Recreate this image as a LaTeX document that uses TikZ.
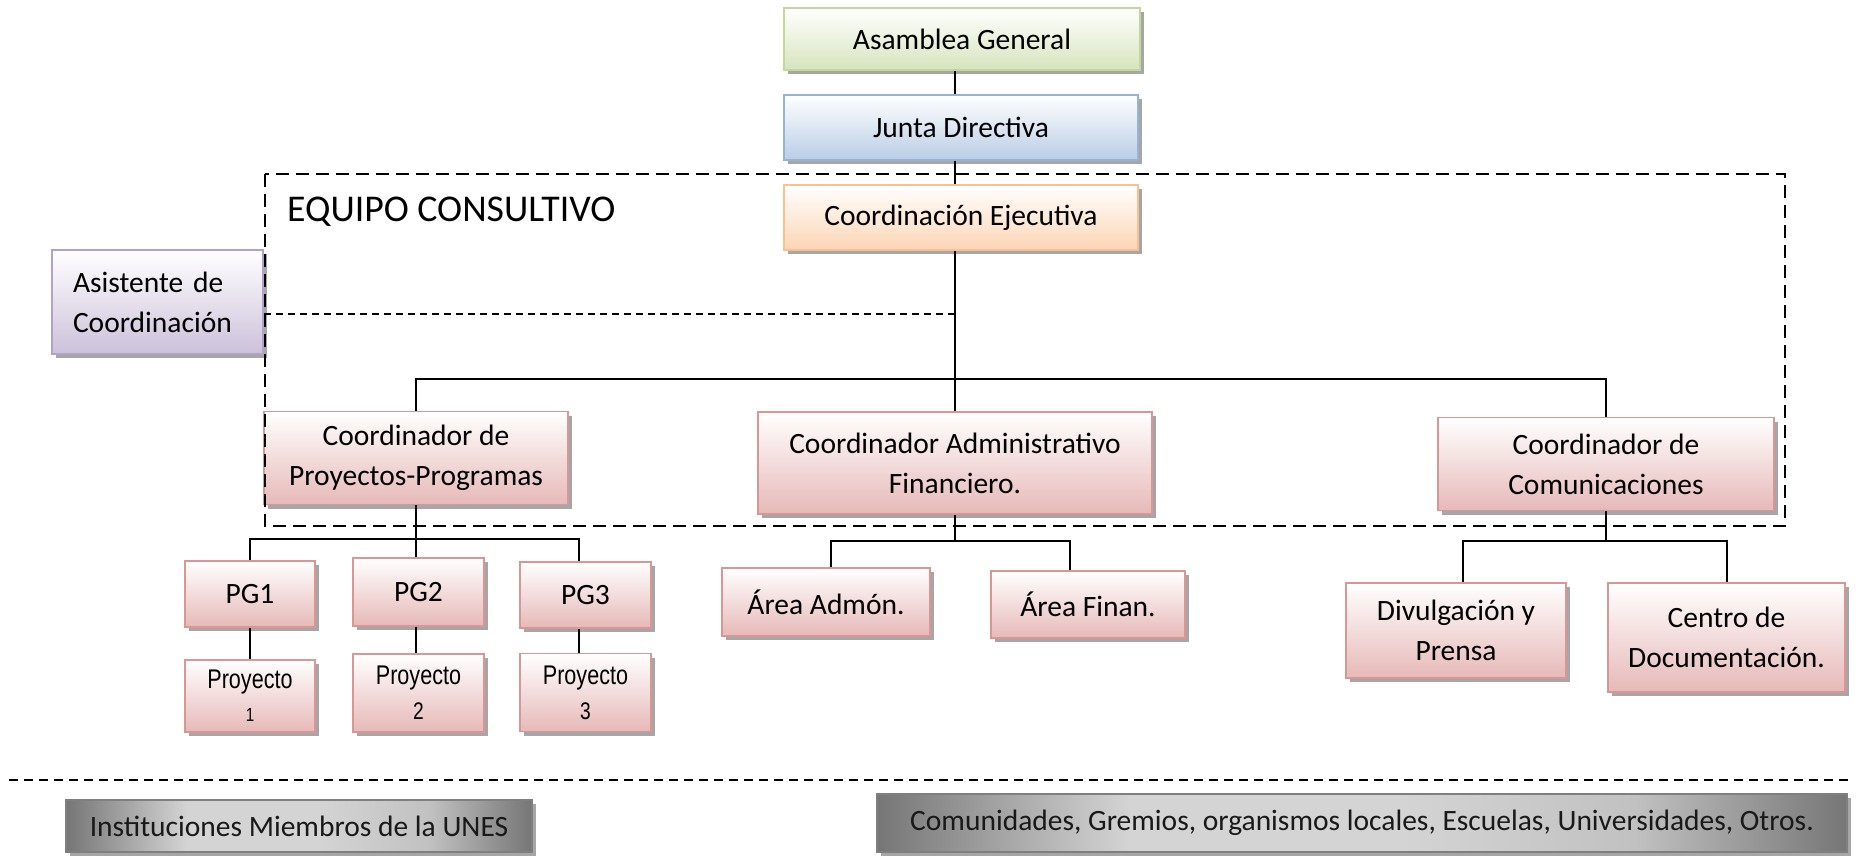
\documentclass[tikz,border=0pt]{standalone}
\usepackage{fontspec}
\setmainfont{Carlito}
\newfontfamily\narrowfont[FakeStretch=0.8]{Liberation Sans}
\usetikzlibrary{shadows,calc}
\definecolor{pinkb}{HTML}{D99694}
\definecolor{pinkf}{HTML}{E6B9B8}
\definecolor{greenb}{HTML}{C3D69B}
\definecolor{greenf}{HTML}{D7E4BD}
\definecolor{blueb}{HTML}{95B3D7}
\definecolor{bluef}{HTML}{B9CDE5}
\definecolor{orangeb}{HTML}{FAC090}
\definecolor{orangef}{HTML}{FCD5B5}
\definecolor{purpleb}{HTML}{B3A2C7}
\definecolor{purplef}{HTML}{CCC1DA}
\definecolor{greyb}{HTML}{7F7F7F}
\definecolor{greyd}{HTML}{767676}
\definecolor{greyl}{HTML}{D4D4D4}
\pgfdeclarehorizontalshading{greyshade}{100bp}{color(0bp)=(greyd); color(25bp)=(greyd); color(38bp)=(greyl); color(52bp)=(greyl); color(64bp)=(greyl!80!greyd); color(75bp)=(greyd); color(100bp)=(greyd)}
\tikzset{
  base/.style={draw, line width=1.6pt, inner sep=0pt, align=center,
    font=\fontsize{29.5}{40}\selectfont,
    drop shadow={shadow xshift=4pt, shadow yshift=-4pt, fill=black, opacity=0.35}},
  pinkbox/.style={base, draw=pinkb, top color=white, bottom color=pinkf},
  greenbox/.style={base, draw=greenb, top color=white, bottom color=greenf},
  bluebox/.style={base, draw=blueb, top color=white, bottom color=bluef},
  orangebox/.style={base, draw=orangeb, top color=white, bottom color=orangef},
  purplebox/.style={base, draw=purpleb, top color=white, bottom color=purplef},
  greybox/.style={base, draw=greyb, shading=greyshade, text=black!90},
  projbox/.style={pinkbox, font=\narrowfont\fontsize{27}{35}\selectfont},
  conn/.style={line width=2pt, black},
  bigdash/.style={line width=2pt, dash pattern=on 13pt off 7pt},
  smalldash/.style={line width=1.6pt, dash pattern=on 7pt off 5pt},
  botdash/.style={line width=1.6pt, dash pattern=on 9pt off 6pt},
}
\begin{document}
\begin{tikzpicture}[x=1pt, y=-1pt]
\useasboundingbox (0,0) rectangle (1858,856);

% top chain
\node[greenbox, minimum width=356pt, minimum height=62pt] (asam) at (962,39) {Asamblea General};
\node[bluebox, minimum width=354pt, minimum height=65pt] (junta) at (961,127.5) {Junta Directiva};
\node[orangebox, minimum width=354pt, minimum height=65pt] (ejec) at (961,217.5) {Coordinación Ejecutiva};

% assistant
\node[purplebox, minimum width=211pt, minimum height=104pt, text width=169pt, inner xsep=21pt, align=left] (asis) at (157.5,302) {Asistente de\\Coordinación};

% coordinators
\node[pinkbox, minimum width=304pt, minimum height=93pt] (cpp) at (416,458) {Coordinador de\\Proyectos-Programas};
\node[pinkbox, minimum width=394pt, minimum height=102pt] (cadm) at (955,463) {Coordinador Administrativo\\Financiero.};
\node[pinkbox, minimum width=336pt, minimum height=93pt] (ccom) at (1606,464) {Coordinador de\\Comunicaciones};

% PG
\node[pinkbox, minimum width=130pt, minimum height=66pt] (pg1) at (250,594) {PG1};
\node[pinkbox, minimum width=131pt, minimum height=68pt] (pg2) at (418.5,592) {PG2};
\node[pinkbox, minimum width=131pt, minimum height=66pt] (pg3) at (585.5,595) {PG3};
\node[projbox, minimum width=130pt, minimum height=72pt] (pr1) at (250,696) {Proyecto\\[-2pt]{\fontsize{19}{22}\selectfont 1}};
\node[projbox, minimum width=131pt, minimum height=78pt] (pr2) at (418.5,693) {Proyecto\\{\fontsize{24}{30}\selectfont 2}};
\node[projbox, minimum width=131pt, minimum height=78pt] (pr3) at (585.5,692.5) {Proyecto\\{\fontsize{24}{30}\selectfont 3}};

% admin
\node[pinkbox, minimum width=208pt, minimum height=68pt] (adm) at (826,602) {Área Admón.};
\node[pinkbox, minimum width=194pt, minimum height=67pt] (fin) at (1088,604.5) {Área Finan.};

% communications
\node[pinkbox, minimum width=220pt, minimum height=95pt] (div) at (1456,630.5) {Divulgación y\\Prensa};
\node[pinkbox, minimum width=237pt, minimum height=109pt] (cen) at (1726.5,637.5) {Centro de\\Documentación.};

% bottom boxes
\node[greybox, minimum width=466pt, minimum height=52pt] (inst) at (299,826) {Instituciones Miembros de la UNES};
\node[greybox, minimum width=970pt, minimum height=58pt] (comu) at (1362,823) {Comunidades, Gremios, organismos locales, Escuelas, Universidades, Otros.};

% coordinates
\coordinate (bus) at (955,379);
\coordinate (asdash) at (955,314);
\coordinate (pbus) at (416,539);
\coordinate (abus) at (955,541);
\coordinate (cbus) at (1606,541);

% connectors
\draw[conn] (asam.south -| bus) -- (junta.north -| bus);
\draw[conn] (junta.south -| bus) -- (ejec.north -| bus);
\draw[conn] (ejec.south -| bus) -- (bus);
\draw[conn] (cpp.north) |- (bus) -| (ccom.north);
\draw[conn] (bus) -- (cadm.north);
\draw[smalldash] (asis.east |- asdash) -- (asdash);

\draw[conn] (cpp.south) -- (pbus);
\draw[conn] (pg1.north) |- (pbus) -| ([xshift=-7pt]pg3.north);
\draw[conn] (pbus) -- (pg2.north -| pbus);
\draw[conn] (pg1.south) -- (pr1.north);
\draw[conn] (pg2.south -| pbus) -- (pr2.north -| pbus);
\draw[conn] ([xshift=-7pt]pg3.south) -- ([xshift=-7pt]pr3.north);

\draw[conn] (cadm.south) -- (abus);
\draw[conn] ([xshift=5pt]adm.north) |- (abus) -| ([xshift=-18pt]fin.north);

\draw[conn] (ccom.south) -- (cbus);
\draw[conn] ([xshift=7pt]div.north) |- (cbus) -| (cen.north);

% equipo consultivo
\draw[bigdash] (265,174) rectangle (1785,526);
\node[anchor=base west, inner sep=0pt, font=\fontsize{37.8}{42}\selectfont] (eq) at (287,221) {EQUIPO CONSULTIVO};

% bottom separator
\draw[botdash] (9,780) -- (1849,780);
\end{tikzpicture}
\end{document}
